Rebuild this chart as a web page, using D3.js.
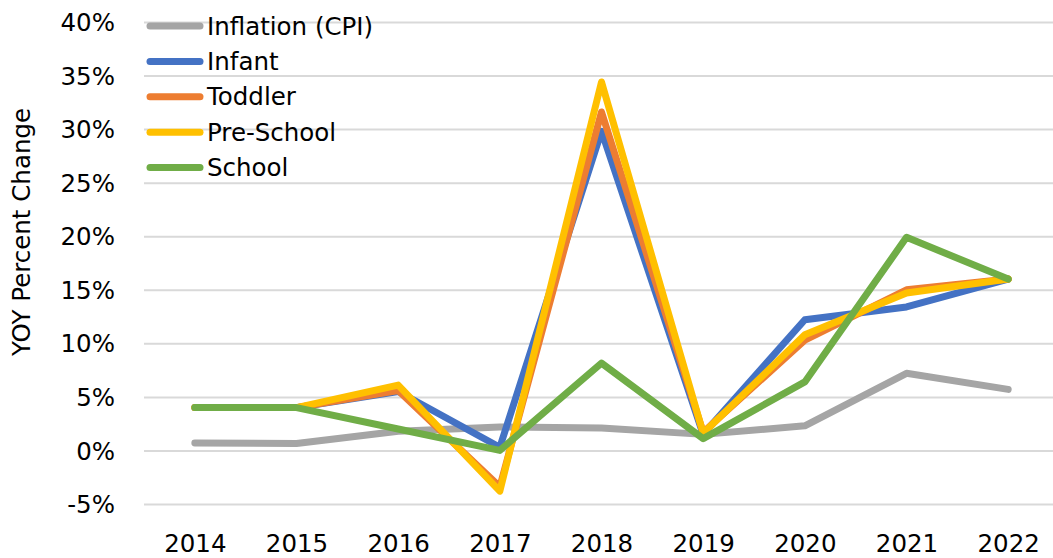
<!DOCTYPE html>
<html>
<head>
<meta charset="utf-8">
<script src="https://cdn.jsdelivr.net/npm/d3@7.9.0/dist/d3.min.js"></script>
<style>
  html, body { margin: 0; padding: 0; background: #fff; }
  svg { display: block; font-family: "DejaVu Sans", sans-serif; }
</style>
</head>
<body>
<div id="chart"></div>
<script>
const years = ['2014', '2015', '2016', '2017', '2018', '2019', '2020', '2021', '2022'];
const yTicks = [-5, 0, 5, 10, 15, 20, 25, 30, 35, 40];

const inflation = [0.7, 0.65, 1.8, 2.2, 2.1, 1.5, 2.3, 7.2, 5.7];
const infant    = [4.0, 4.0, 5.5, 0.3, 29.8, 1.5, 12.2, 13.4, 16.0];
const toddler   = [4.0, 4.0, 5.6, -3.4, 31.6, 1.7, 10.3, 15.0, 16.0];
const preSchool = [4.0, 4.0, 6.1, -3.8, 34.4, 1.6, 10.8, 14.7, 16.0];
const school    = [4.0, 4.0, 2.0, 0.0, 8.15, 1.1, 6.4, 19.9, 16.0];

const series = [
  { name: 'Inflation (CPI)', values: inflation, color: '#A5A5A5' },
  { name: 'Infant',          values: infant,    color: '#4472C4' },
  { name: 'Toddler',         values: toddler,   color: '#ED7D31' },
  { name: 'Pre-School',      values: preSchool, color: '#FFC000' },
  { name: 'School',          values: school,    color: '#70AD47' },
];

const width = 1053, height = 558;
const plot = { left: 144, right: 1059, top: 22, bottom: 504 };
const font = '"DejaVu Sans", sans-serif';
const fs = 24.5;

const svg = d3.select('#chart').append('svg')
  .attr('width', width)
  .attr('height', height);

const x = d3.scalePoint()
  .domain(years)
  .range([plot.left, plot.right])
  .padding(0.5);

const y = d3.scaleLinear()
  .domain([-5, 40])
  .range([plot.bottom, plot.top]);

// gridlines
svg.append('g')
  .attr('class', 'grid')
  .attr('transform', `translate(${plot.left},0)`)
  .call(d3.axisLeft(y).tickValues(yTicks).tickSize(-(width - plot.left)).tickFormat(''))
  .call(g => g.select('.domain').remove())
  .call(g => g.selectAll('line').attr('stroke', '#d9d9d9').attr('stroke-width', 2));

// y axis labels
svg.append('g')
  .attr('transform', `translate(${plot.left - 29},0)`)
  .call(d3.axisLeft(y).tickValues(yTicks).tickSize(0).tickPadding(0).tickFormat(d => d + '%'))
  .call(g => g.select('.domain').remove())
  .call(g => g.selectAll('text')
    .attr('font-size', fs)
    .attr('font-family', font)
    .attr('fill', '#000')
    .attr('dy', '0.35em'));

// x axis labels
svg.append('g')
  .attr('transform', `translate(0,${plot.bottom})`)
  .call(d3.axisBottom(x).tickSize(0).tickPadding(0))
  .call(g => g.select('.domain').remove())
  .call(g => g.selectAll('text')
    .attr('font-size', fs)
    .attr('font-family', font)
    .attr('fill', '#000')
    .attr('dy', null)
    .attr('y', 48));

// y title
svg.append('text')
  .attr('transform', `translate(30,232) rotate(-90)`)
  .attr('text-anchor', 'middle')
  .attr('font-size', fs)
  .attr('fill', '#000')
  .text('YOY Percent Change');

// lines
const line = d3.line()
  .x((d, i) => x(years[i]))
  .y(d => y(d));

svg.append('g')
  .selectAll('path')
  .data(series)
  .join('path')
  .attr('d', d => line(d.values))
  .attr('fill', 'none')
  .attr('stroke', d => d.color)
  .attr('stroke-width', 7)
  .attr('stroke-linejoin', 'round')
  .attr('stroke-linecap', 'round');

// legend
const legend = svg.append('g').attr('class', 'legend');
const item = legend.selectAll('g')
  .data(series)
  .join('g')
  .attr('transform', (d, i) => `translate(0,${26 + i * 35.4})`);

item.append('line')
  .attr('x1', 150).attr('x2', 200)
  .attr('stroke', d => d.color)
  .attr('stroke-width', 7)
  .attr('stroke-linecap', 'round');

item.append('text')
  .attr('x', 207)
  .attr('dy', '0.35em')
  .attr('font-size', fs)
  .attr('fill', '#000')
  .text(d => d.name);
</script>
</body>
</html>
